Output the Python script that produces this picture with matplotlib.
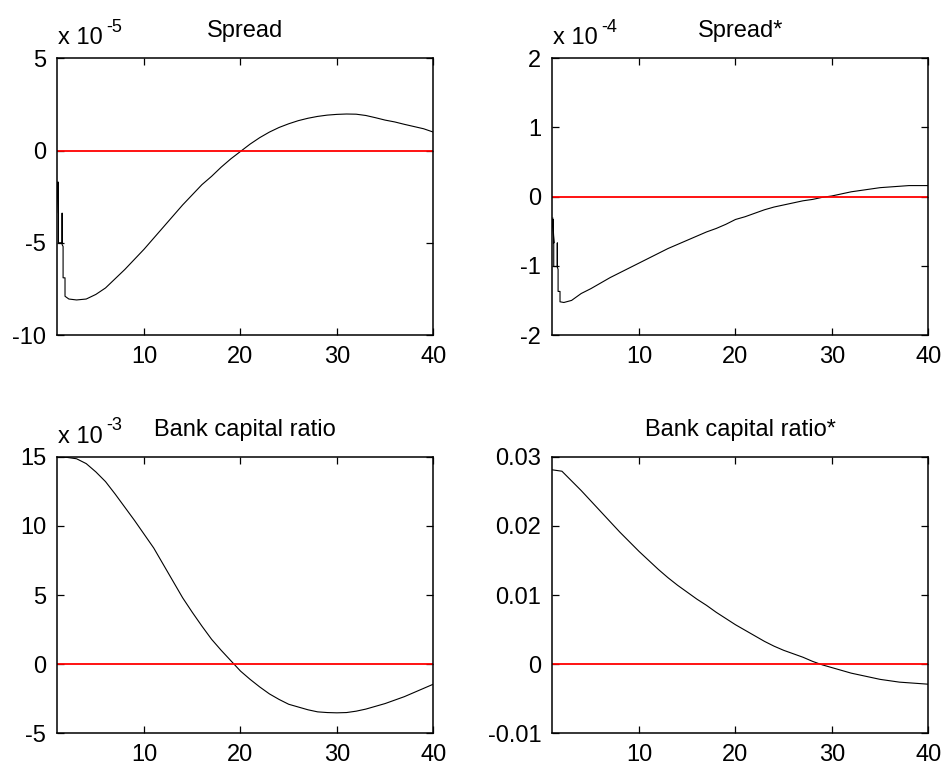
import matplotlib
matplotlib.use("Agg")
import matplotlib.pyplot as plt

plt.rcParams['font.family'] = ['Liberation Sans', 'DejaVu Sans']

# Spread (units of 1e-5); first points are a short jagged drop right at x=1
spread_x = [1.06, 1.12, 1.08, 1.12, 1.12, 1.5, 1.5, 1.5, 1.6, 1.6, 1.8, 1.8, 2.2,
            3, 4, 5, 6, 7, 8, 9, 10, 11, 12, 13, 14, 15, 16, 17, 18, 19, 20,
            21, 22, 23, 24, 25, 26, 27, 28, 29, 30, 31, 32, 33, 34, 35, 36, 37, 38, 39, 40]
spread = [-1.7, -3.4, -1.75, -3.4, -5.0, -5.0, -3.4, -5.1, -5.2, -6.9, -6.9, -7.9, -8.05,
          -8.1, -8.05, -7.8, -7.45, -6.95, -6.45, -5.9, -5.35, -4.75, -4.15, -3.55, -2.95,
          -2.4, -1.85, -1.4, -0.9, -0.45, -0.05, 0.35, 0.7, 1.0, 1.25, 1.45, 1.62, 1.75,
          1.85, 1.92, 1.96, 1.98, 1.97, 1.9, 1.78, 1.65, 1.55, 1.42, 1.3, 1.18, 1.0]

# Spread* (units of 1e-4)
spread_star_x = [1.05, 1.15, 1.08, 1.15, 1.15, 1.52, 1.52, 1.52, 1.6, 1.6, 1.8, 1.8, 2.2,
                 3, 4, 5, 6, 7, 8, 9, 10, 11, 12, 13, 14, 15, 16, 17, 18, 19, 20,
                 21, 22, 23, 24, 25, 26, 27, 28, 29, 30, 31, 32, 33, 34, 35, 36, 37, 38, 39, 40]
spread_star = [-0.31, -0.67, -0.33, -0.67, -1.01, -1.01, -0.67, -1.02, -1.05, -1.37, -1.37,
               -1.52, -1.53, -1.50, -1.40, -1.33, -1.25, -1.17, -1.10, -1.03, -0.96, -0.89,
               -0.82, -0.75, -0.69, -0.63, -0.57, -0.51, -0.46, -0.40, -0.33, -0.29, -0.24,
               -0.19, -0.15, -0.12, -0.09, -0.06, -0.04, -0.01, 0.01, 0.04, 0.07, 0.09, 0.11,
               0.13, 0.14, 0.15, 0.16, 0.16, 0.16]

periods = list(range(1, 41))

# Bank capital ratio (units of 1e-3)
capital = [14.95, 14.95, 14.85, 14.5, 13.9, 13.2, 12.3, 11.35, 10.4, 9.4, 8.4, 7.2, 6.0,
           4.8, 3.75, 2.75, 1.8, 1.0, 0.25, -0.5, -1.1, -1.65, -2.15, -2.55, -2.9, -3.1,
           -3.3, -3.45, -3.5, -3.52, -3.5, -3.4, -3.25, -3.05, -2.85, -2.6, -2.35, -2.05,
           -1.75, -1.45]

# Bank capital ratio*
capital_star = [0.0281, 0.0279, 0.0265, 0.0251, 0.0236, 0.0221, 0.0206, 0.0191, 0.0177,
                0.0163, 0.0150, 0.0137, 0.0125, 0.0114, 0.0104, 0.0094, 0.0085, 0.0075,
                0.0066, 0.0057, 0.0049, 0.0041, 0.0033, 0.0026, 0.0020, 0.0015, 0.0010,
                0.0004, -0.0001, -0.0005, -0.0009, -0.0013, -0.0016, -0.0019, -0.0022,
                -0.0024, -0.0026, -0.0027, -0.0028, -0.0029]

titles = ["Spread", "Spread*", "Bank capital ratio", "Bank capital ratio*"]
exponents = ["-5", "-4", "-3", None]
yticks = [[-10, -5, 0, 5], [-2, -1, 0, 1, 2], [-5, 0, 5, 10, 15], [-0.01, 0, 0.01, 0.02, 0.03]]
ytick_labels = [["-10", "-5", "0", "5"], ["-2", "-1", "0", "1", "2"],
                ["-5", "0", "5", "10", "15"], ["-0.01", "0", "0.01", "0.02", "0.03"]]
xticks = [10, 20, 30, 40]

series = [(spread_x, spread), (spread_star_x, spread_star), (periods, capital), (periods, capital_star)]

W, H = 946, 773
fig = plt.figure(figsize=(W / 100, H / 100), dpi=100)

# pixel boxes: left, top, right, bottom
boxes = [(57.3, 58.3, 433.3, 335.0), (552.3, 58.3, 928.3, 335.0),
         (57.3, 456.7, 433.3, 733.3), (552.3, 456.7, 928.3, 733.3)]

FS = 17
for i in range(4):
    l, t, r, b = boxes[i]
    ax = fig.add_axes([l / W, 1 - b / H, (r - l) / W, (b - t) / H])
    x, y = series[i]
    ax.plot(x, y, color="black", lw=0.8)
    ax.axhline(0, color="#ff0000", lw=1.3)
    ax.set_xlim(1, 40)
    ax.set_ylim(yticks[i][0], yticks[i][-1])
    ax.set_xticks(xticks)
    ax.set_xticklabels([str(v) for v in xticks])
    ax.set_yticks(yticks[i])
    ax.set_yticklabels(ytick_labels[i])
    ax.tick_params(direction="in", top=True, right=True, length=5, width=0.9,
                   labelsize=FS, pad=8)
    for s in ax.spines.values():
        s.set_linewidth(1.1)
    ax.set_title(titles[i], fontsize=FS, pad=15)
    if exponents[i] is not None:
        ax.annotate("x 10", xy=(0, 1), xycoords="axes fraction",
                    xytext=(0.5, 10), textcoords="offset points", fontsize=FS,
                    ha="left", va="baseline")
        ax.annotate(exponents[i], xy=(0, 1), xycoords="axes fraction",
                    xytext=(35, 19), textcoords="offset points", fontsize=13,
                    ha="left", va="baseline")

fig.savefig("out.png", dpi=100)
